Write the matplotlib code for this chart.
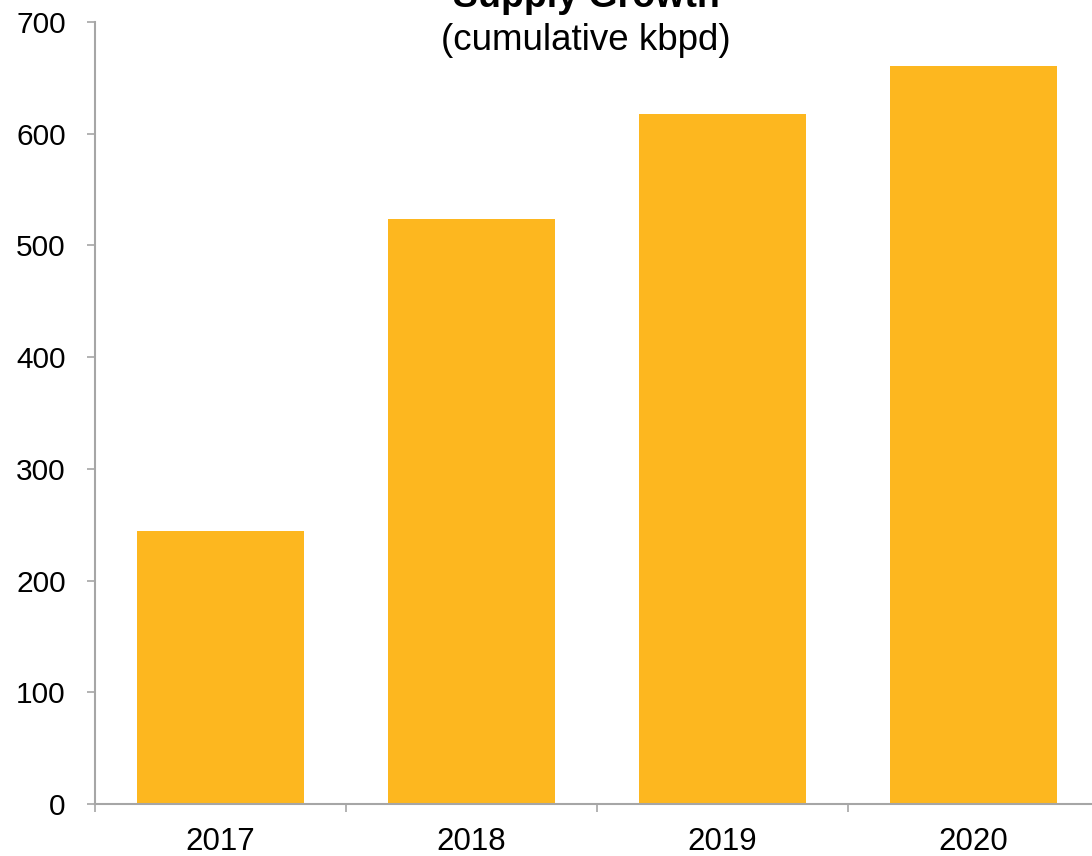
import matplotlib
matplotlib.use("Agg")
import matplotlib.pyplot as plt
import numpy as np

plt.rcParams['font.family'] = ['Liberation Sans', 'DejaVu Sans']

categories = ["2017", "2018", "2019", "2020"]
values = [244, 524, 618, 661]
title = "Supply Growth"
subtitle = "(cumulative kbpd)"
yticks = [0, 100, 200, 300, 400, 500, 600, 700]

bar_color = "#FDB71F"
axis_color = "#A6A6A6"

fig = plt.figure(figsize=(10.92, 8.56), dpi=100)
ax = fig.add_axes([95/1092, 52/856, 1004/1092, 782/856])

x = np.arange(len(categories))
ax.bar(x, values, width=0.665, color=bar_color, edgecolor="none")

ax.set_xlim(-0.5, len(categories) - 0.5)
ax.set_ylim(0, 700)

for s in ["top", "right"]:
    ax.spines[s].set_visible(False)
for s in ["left", "bottom"]:
    ax.spines[s].set_color(axis_color)
    ax.spines[s].set_linewidth(1.5)

ax.set_yticks(yticks)
ax.set_yticklabels([str(v) for v in yticks])
ax.tick_params(axis="y", direction="out", length=6, width=1.2, color=axis_color,
               labelsize=21.5, pad=15, labelcolor="black")

ax.set_xticks(np.arange(-0.5, len(categories), 1.0))
ax.set_xticklabels([])
ax.tick_params(axis="x", which="major", direction="out", length=6, width=1.2, color=axis_color)
ax.set_xticks(x, minor=True)
ax.set_xticklabels(categories, minor=True)
ax.tick_params(axis="x", which="minor", length=0, labelsize=22.5, pad=16.5, labelcolor="black")

fig.text(586/1092, 1 - 7/856, title, ha="center", va="baseline",
         fontsize=27, fontweight="bold")
fig.text(586/1092, 1 - 50/856, subtitle, ha="center", va="baseline", fontsize=26.5)

fig.savefig("out.png", dpi=100)
